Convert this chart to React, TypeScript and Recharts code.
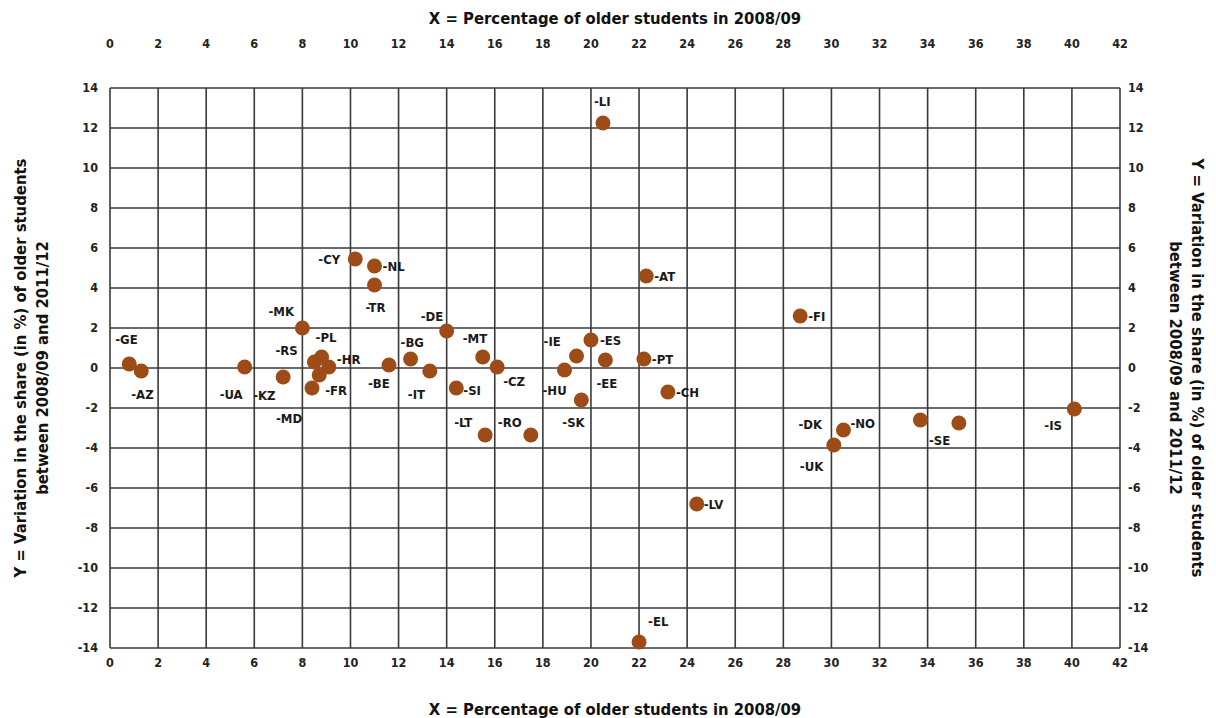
import { ScatterChart, Scatter, XAxis, YAxis, CartesianGrid, Label } from 'recharts';

// country codes and values
const codes = [
  'GE', 'AZ', 'UA', 'KZ', 'RS', 'MK', 'PL', 'HR', 'FR', 'MD',
  'CY', 'NL', 'TR', 'BE', 'BG', 'IT', 'DE', 'SI', 'MT', 'CZ',
  'LT', 'RO', 'HU', 'IE', 'SK', 'ES', 'EE', 'PT', 'CH', 'AT',
  'LI', 'FI', 'LV', 'EL', 'DK', 'UK', 'NO', 'SE', 'IS',
];
const olderShare = [
  0.8, 1.3, 5.6, 7.2, 8.5, 8.0, 8.8, 9.1, 8.7, 8.4,
  10.2, 11.0, 11.0, 11.6, 12.5, 13.3, 14.0, 14.4, 15.5, 16.1,
  15.6, 17.5, 18.9, 19.4, 19.6, 20.0, 20.6, 22.2, 23.2, 22.3,
  20.5, 28.7, 24.4, 22.0, 30.5, 30.1, 33.7, 35.3, 40.1,
];
const variation = [
  0.2, -0.15, 0.05, -0.45, 0.3, 2.0, 0.55, 0.05, -0.35, -1.0,
  5.45, 5.1, 4.15, 0.15, 0.45, -0.15, 1.85, -1.0, 0.55, 0.05,
  -3.35, -3.35, -0.1, 0.6, -1.6, 1.4, 0.4, 0.45, -1.2, 4.6,
  12.25, 2.6, -6.8, -13.7, -3.1, -3.85, -2.6, -2.75, -2.05,
];
const xTicks = [0, 2, 4, 6, 8, 10, 12, 14, 16, 18, 20, 22, 24, 26, 28, 30, 32, 34, 36, 38, 40, 42];
const yTicks = [-14, -12, -10, -8, -6, -4, -2, 0, 2, 4, 6, 8, 10, 12, 14];

// where each "-XX" label sits relative to its dot (pixels)
const labelOffset: Record<string, [number, number]> = {
  GE: [-14, -25], AZ: [-10, 23], UA: [-25, 27], KZ: [-30, 18], RS: [-39, -12],
  MK: [-34, -17], PL: [-6, -20], HR: [8, -8], FR: [6, 15], MD: [-36, 30],
  CY: [-37, 0], NL: [8, 0], TR: [-9, 22], BE: [-21, 18], BG: [-10, -17],
  IT: [-22, 23], DE: [-26, -15], SI: [7, 2], MT: [-20, -19], CZ: [6, 14],
  LT: [-31, -13], RO: [-33, -13], HU: [-22, 20], IE: [-33, -15], SK: [-19, 22],
  ES: [9, 0], EE: [-9, 23], PT: [8, 0], CH: [8, 0], AT: [8, 0],
  LI: [-9, -22], FI: [8, 0], LV: [7, 0], EL: [9, -21], DK: [-45, -6],
  UK: [-34, 21], NO: [-70, 3], SE: [-30, 17], IS: [-30, 16],
};

const data = codes.map((code, i) => ({ code, x: olderShare[i], y: variation[i] }));

const FONT = "'Liberation Sans Narrow', 'Arial Narrow', 'DejaVu Sans Condensed', 'Liberation Sans', Arial, sans-serif";
const DOT = '#9E4C17';
const X_TITLE = 'X = Percentage of older students in 2008/09';
const Y_TITLE_1 = 'Y = Variation in the share (in %) of older students';
const Y_TITLE_2 = 'between 2008/09 and 2011/12';

const tickStyle = { fontFamily: FONT, fontSize: 12.5, fontWeight: 700, fill: '#222' };

const Dot = (props: any) => {
  const { cx, cy, payload } = props;
  const [dx, dy] = labelOffset[payload.code] || [8, 0];
  return (
    <g>
      <circle cx={cx} cy={cy} r={7.5} fill={DOT} />
      <text
        x={cx + dx}
        y={cy + dy}
        dy="0.35em"
        fontFamily={FONT}
        fontSize={13}
        fontWeight={700}
        fill="#1a1a1a"
      >
        -{payload.code}
      </text>
    </g>
  );
};

const NoDot = () => <g />;

const titleProps = { fontFamily: FONT, fontSize: 16.5, fontWeight: 700, fill: '#111', textAnchor: 'middle' as const };

export default function App() {
  return (
    <div style={{ position: 'absolute', left: 0, top: 0, background: '#fff' }}>
      <ScatterChart width={1216} height={718} margin={{ top: 0, right: 0, bottom: 0, left: 0 }}>
        <CartesianGrid stroke="#3a3a3a" strokeWidth={1.6} />
        <XAxis
          type="number"
          dataKey="x"
          domain={[0, 42]}
          ticks={xTicks}
          height={70}
          tickLine={false}
          axisLine={false}
          tickMargin={4}
          tick={tickStyle}
          interval={0}
        >
          <Label
            content={({ viewBox }: any) => (
              <text x={viewBox.x + viewBox.width / 2} y={715} {...titleProps}>
                {X_TITLE}
              </text>
            )}
          />
        </XAxis>
        <XAxis
          xAxisId="top"
          orientation="top"
          type="number"
          dataKey="x"
          domain={[0, 42]}
          ticks={xTicks}
          height={88}
          tickLine={false}
          axisLine={false}
          tickMargin={34}
          tick={tickStyle}
          interval={0}
        >
          <Label
            content={({ viewBox }: any) => (
              <text x={viewBox.x + viewBox.width / 2} y={24} {...titleProps}>
                {X_TITLE}
              </text>
            )}
          />
        </XAxis>
        <YAxis
          type="number"
          dataKey="y"
          domain={[-14, 14]}
          ticks={yTicks}
          width={110}
          tickLine={false}
          axisLine={false}
          tickMargin={6}
          tick={tickStyle}
          interval={0}
        >
          <Label
            content={({ viewBox }: any) => {
              const cy = viewBox.y + viewBox.height / 2;
              return (
                <g>
                  <text x={26} y={cy} transform={`rotate(-90 26 ${cy})`} {...titleProps}>
                    {Y_TITLE_1}
                  </text>
                  <text x={48} y={cy} transform={`rotate(-90 48 ${cy})`} {...titleProps}>
                    {Y_TITLE_2}
                  </text>
                </g>
              );
            }}
          />
        </YAxis>
        <YAxis
          yAxisId="right"
          orientation="right"
          type="number"
          dataKey="y"
          domain={[-14, 14]}
          ticks={yTicks}
          width={96}
          tickLine={false}
          axisLine={false}
          tickMargin={2}
          tick={tickStyle}
          interval={0}
        >
          <Label
            content={({ viewBox }: any) => {
              const cy = viewBox.y + viewBox.height / 2;
              return (
                <g>
                  <text x={1192} y={cy} transform={`rotate(90 1192 ${cy})`} {...titleProps}>
                    {Y_TITLE_1}
                  </text>
                  <text x={1170} y={cy} transform={`rotate(90 1170 ${cy})`} {...titleProps}>
                    {Y_TITLE_2}
                  </text>
                </g>
              );
            }}
          />
        </YAxis>
        <Scatter data={data} xAxisId="top" yAxisId="right" shape={NoDot} isAnimationActive={false} />
        <Scatter data={data} shape={Dot} isAnimationActive={false} />
      </ScatterChart>
    </div>
  );
}
